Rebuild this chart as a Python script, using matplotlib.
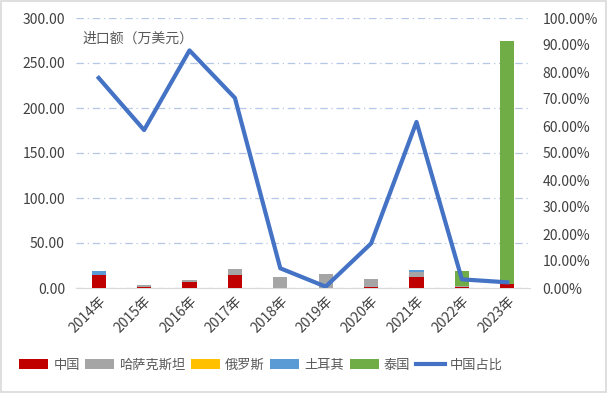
import numpy as np
import matplotlib
matplotlib.use('Agg')
import matplotlib.pyplot as plt
from matplotlib.ticker import FuncFormatter

plt.rcParams['font.family'] = ['Noto Sans CJK SC', 'DejaVu Sans']

years = ['2014年', '2015年', '2016年', '2017年', '2018年', '2019年', '2020年', '2021年', '2022年', '2023年']
# import value, 10k USD
china = [15.0, 1.5, 7.0, 14.5, 0.0, 0.3, 1.5, 12.0, 1.5, 5.0]
kazakhstan = [0.0, 2.0, 1.5, 6.5, 12.0, 15.2, 9.0, 6.0, 0.7, 0.0]
russia = [0, 0, 0, 0, 0, 0, 0, 0, 0, 0]
turkey = [4.0, 0.0, 0.0, 0.0, 0.0, 0.0, 0.0, 1.5, 0.0, 0.0]
thailand = [0.0, 0.0, 0.0, 0.0, 0.0, 0.0, 0.0, 0.0, 16.7, 270.0]
# China share, %
china_share = [77.8, 58.5, 88.0, 70.4, 7.3, 0.5, 16.5, 61.5, 3.2, 2.1]

series = [('中国', china, '#C00000'), ('哈萨克斯坦', kazakhstan, '#A5A5A5'),
          ('俄罗斯', russia, '#FFC000'), ('土耳其', turkey, '#5B9BD5'),
          ('泰国', thailand, '#70AD47')]

fig = plt.figure(figsize=(6.07, 3.93), dpi=100)
ax = fig.add_axes([76/607, 1-288/393, (530-76)/607, 270/393])
ax2 = ax.twinx()

x = np.arange(len(years))
bottom = np.zeros(len(years))
for name, vals, col in series:
    ax.bar(x, vals, width=0.31, bottom=bottom, color=col, label=name, zorder=3)
    bottom += np.array(vals)

ax2.plot(x, china_share, color='#4472C4', linewidth=3.0, label='中国占比', zorder=4)

ax.set_xlim(-0.5, len(years) - 0.5)
ax.set_ylim(0, 300)
ax.set_yticks(np.arange(0, 301, 50))
ax.yaxis.set_major_formatter(FuncFormatter(lambda v, p: f'{v:.2f}'))
ax2.set_ylim(0, 100)
ax2.set_yticks(np.arange(0, 101, 10))
ax2.yaxis.set_major_formatter(FuncFormatter(lambda v, p: f'{v:.2f}%'))

ax.grid(axis='y', color='#B4C7E7', linestyle=(0, (6, 3, 1, 3)), linewidth=0.9, zorder=0)
ax.set_xticks(x)
ax.set_xticklabels(years, rotation=45, ha='right', rotation_mode='anchor')
for a in (ax, ax2):
    for s in a.spines.values():
        s.set_visible(False)
    a.tick_params(length=0, labelsize=10, labelcolor='#404040')
ax.spines['bottom'].set_visible(True)
ax.spines['bottom'].set_color('#D9D9D9')
ax.tick_params(axis='y', pad=8)
ax2.tick_params(axis='y', pad=9)
ax.tick_params(axis='x', pad=4)
ax.set_zorder(ax2.get_zorder() - 1)
ax.patch.set_visible(False)

ax.text(0.015, 0.925, '进口额（万美元）', transform=ax.transAxes, fontsize=10,
        color='#595959', va='center')

h1, l1 = ax.get_legend_handles_labels()
h2, l2 = ax2.get_legend_handles_labels()
fig.legend(h1 + h2, l1 + l2, loc='center', bbox_to_anchor=(261/607, 1-365/393), ncol=6,
           frameon=False, fontsize=9.5, handlelength=2.2, handleheight=0.75,
           columnspacing=0.4, handletextpad=0.4, labelcolor='#595959')

fig.add_artist(plt.Rectangle((0.002, 0.003), 0.996, 0.994, transform=fig.transFigure,
                             fill=False, edgecolor='#D9D9D9', linewidth=1.2))

fig.savefig('out.png', dpi=100)
